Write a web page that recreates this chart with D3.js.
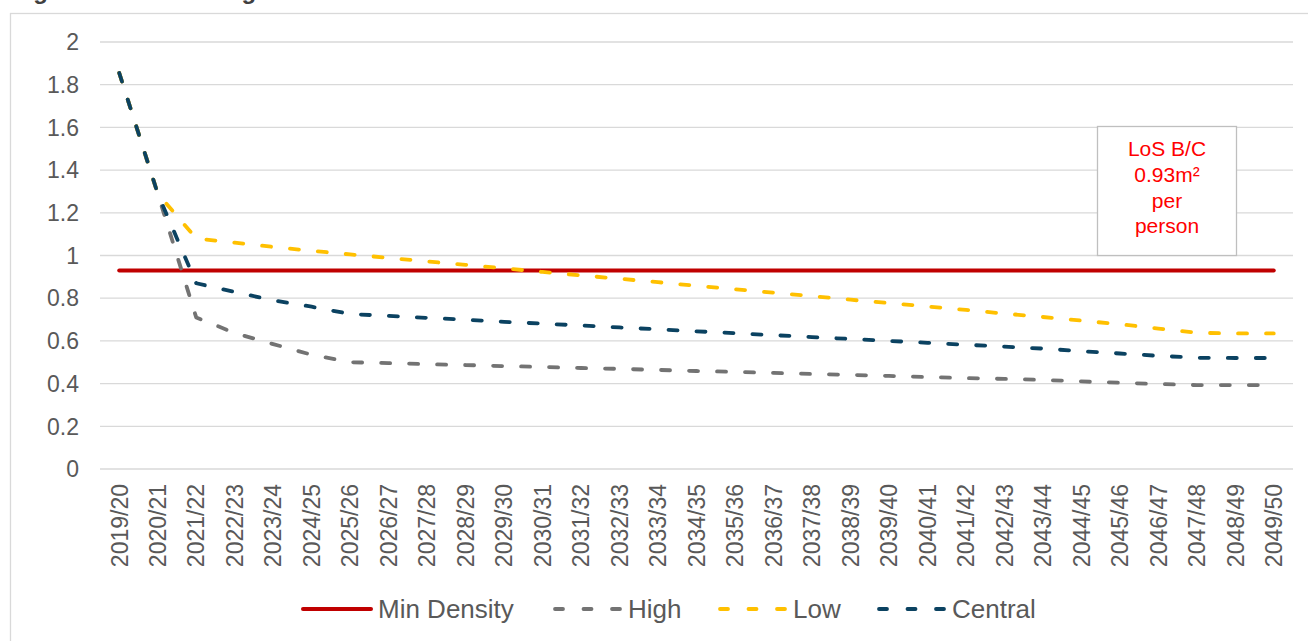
<!DOCTYPE html>
<html>
<head>
<meta charset="utf-8">
<script src="https://cdn.jsdelivr.net/npm/d3@7"></script>
<style>
  body { margin: 0; background: #fff; }
  svg { display: block; font-family: "Liberation Sans", Arial, sans-serif; }
  .grid line { stroke: #d9d9d9; stroke-width: 1.3; }
  .tick-label { fill: #595959; font-size: 23px; }
  .legend text { fill: #595959; font-size: 26px; }
</style>
</head>
<body>
<svg class="chart" width="1308" height="641"></svg>
<script>
// categories (financial years)
var years = ["2019/20", "2020/21", "2021/22", "2022/23", "2023/24", "2024/25", "2025/26", "2026/27",
    "2027/28", "2028/29", "2029/30", "2030/31", "2031/32", "2032/33", "2033/34", "2034/35",
    "2035/36", "2036/37", "2037/38", "2038/39", "2039/40", "2040/41", "2041/42", "2042/43",
    "2043/44", "2044/45", "2045/46", "2046/47", "2047/48", "2048/49", "2049/50"];

// m2 per person
var minDensity = [0.93, 0.93, 0.93, 0.93, 0.93, 0.93, 0.93, 0.93, 0.93, 0.93, 0.93, 0.93, 0.93, 0.93, 0.93, 0.93,
    0.93, 0.93, 0.93, 0.93, 0.93, 0.93, 0.93, 0.93, 0.93, 0.93, 0.93, 0.93, 0.93, 0.93, 0.93];
var high = [1.855, 1.29, 0.71, 0.637, 0.585, 0.535, 0.500, 0.496, 0.491, 0.487, 0.482, 0.478, 0.473, 0.469,
    0.464, 0.459, 0.455, 0.450, 0.445, 0.441, 0.436, 0.431, 0.426, 0.422, 0.417, 0.410, 0.404, 0.398,
    0.393, 0.393, 0.393];
var low = [1.855, 1.29, 1.08, 1.06, 1.04, 1.022, 1.005, 0.989, 0.972, 0.956, 0.940, 0.923, 0.907, 0.891,
    0.875, 0.858, 0.842, 0.826, 0.810, 0.793, 0.777, 0.761, 0.745, 0.728, 0.712, 0.695, 0.678, 0.658,
    0.638, 0.635, 0.635];
var central = [1.855, 1.29, 0.87, 0.829, 0.79, 0.76, 0.726, 0.717, 0.708, 0.699, 0.689, 0.681, 0.672, 0.663,
    0.654, 0.645, 0.636, 0.627, 0.618, 0.609, 0.600, 0.591, 0.582, 0.573, 0.564, 0.552, 0.541, 0.530,
    0.521, 0.520, 0.520];

var yTicks = [0, 0.2, 0.4, 0.6, 0.8, 1, 1.2, 1.4, 1.6, 1.8, 2];
var noteLines = ["LoS B/C", "0.93m\u00b2", "per", "person"];

var series = [
    { name: "Min Density", values: minDensity, color: "#c00000", dash: null },
    { name: "High", values: high, color: "#737373", dash: "9 19" },
    { name: "Low", values: low, color: "#ffc000", dash: "9 19" },
    { name: "Central", values: central, color: "#0b4261", dash: "9 19" }
];

var svg = d3.select(".chart");

// chart frame and the title above it (cut off at the top, as in the source)
svg.append("rect")
    .attr("x", 10.5)
    .attr("y", 13.5)
    .attr("width", 1320)
    .attr("height", 660)
    .attr("fill", "none")
    .attr("stroke", "#d9d9d9")
    .attr("stroke-width", 1.3);

svg.append("text")
    .attr("x", 12)
    .attr("y", -1)
    .attr("font-size", 24)
    .attr("font-weight", "bold")
    .attr("fill", "#404040")
    .text("Figure 6: Forecasting Scenarios");

var x = d3.scaleBand()
    .domain(years)
    .range([100, 1293]);

var y = d3.scaleLinear()
    .domain([0, 2])
    .range([469, 42]);

function cx(d) { return x(d) + x.bandwidth() / 2; }

// gridlines
svg.append("g")
    .attr("class", "grid")
    .selectAll("line")
    .data(yTicks)
    .enter().append("line")
    .attr("x1", 100)
    .attr("x2", 1293)
    .attr("y1", function (d) { return y(d); })
    .attr("y2", function (d) { return y(d); });

// y labels
svg.append("g")
    .selectAll("text")
    .data(yTicks)
    .enter().append("text")
    .attr("class", "tick-label")
    .attr("x", 79)
    .attr("y", function (d) { return y(d); })
    .attr("dy", "0.36em")
    .attr("text-anchor", "end")
    .text(function (d) { return d3.format("~g")(d); });

// x labels, rotated
svg.append("g")
    .selectAll("text")
    .data(years)
    .enter().append("text")
    .attr("class", "tick-label")
    .attr("transform", function (d) { return "translate(" + cx(d) + ",484) rotate(-90)"; })
    .attr("dy", "0.36em")
    .attr("text-anchor", "end")
    .text(function (d) { return d; });

// lines
var line = d3.line()
    .x(function (d, i) { return cx(years[i]); })
    .y(function (d) { return y(d); });

svg.append("g")
    .selectAll("path")
    .data(series)
    .enter().append("path")
    .attr("d", function (s) { return line(s.values); })
    .attr("fill", "none")
    .attr("stroke", function (s) { return s.color; })
    .attr("stroke-width", function (s) { return s.dash ? 3.8 : 4; })
    .attr("stroke-linecap", "round")
    .attr("stroke-linejoin", "round")
    .attr("stroke-dasharray", function (s) { return s.dash; });

// annotation box
var note = svg.append("g");
note.append("rect")
    .attr("x", 1097.5)
    .attr("y", 126.5)
    .attr("width", 139)
    .attr("height", 129)
    .attr("fill", "#fff")
    .attr("stroke", "#bfbfbf")
    .attr("stroke-width", 1.3);
note.selectAll("text")
    .data(noteLines)
    .enter().append("text")
    .attr("x", 1167)
    .attr("y", function (d, i) { return 156 + i * 25.8; })
    .attr("text-anchor", "middle")
    .attr("font-size", 21)
    .attr("fill", "#ff0000")
    .text(function (d) { return d; });

// legend
var legendX = [303, 555, 720, 879];
var legend = svg.append("g")
    .attr("class", "legend")
    .selectAll("g")
    .data(series)
    .enter().append("g")
    .attr("transform", function (d, i) { return "translate(" + legendX[i] + ",609)"; });

legend.append("line")
    .attr("x1", 0)
    .attr("x2", 68)
    .attr("stroke", function (s) { return s.color; })
    .attr("stroke-width", function (s) { return s.dash ? 3.8 : 4; })
    .attr("stroke-linecap", "round")
    .attr("stroke-dasharray", function (s) { return s.dash ? "8 20.5" : null; });

legend.append("text")
    .attr("x", function (s) { return s.dash ? 73 : 75; })
    .attr("dy", "0.36em")
    .text(function (s) { return s.name; });
</script>
</body>
</html>
